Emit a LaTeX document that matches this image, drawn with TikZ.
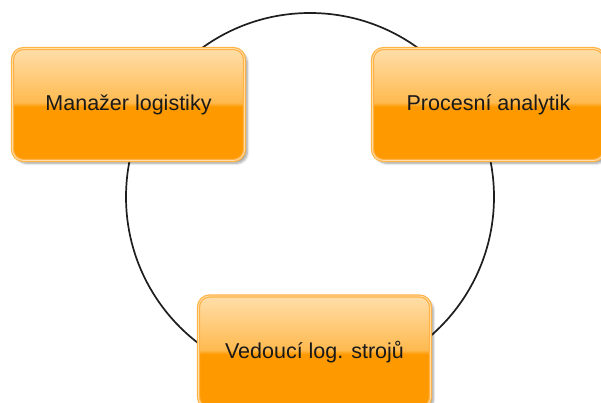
\documentclass[tikz,border=0pt]{standalone}
\usepackage{fontspec}
\setmainfont{Liberation Sans}
\usepackage{tikz}
\usetikzlibrary{shadows.blur}
\definecolor{boxtop}{RGB}{255,222,170}
\definecolor{boxmid}{RGB}{255,186,80}
\definecolor{boxbot}{RGB}{255,153,0}
\definecolor{boxedge}{RGB}{255,178,70}
\definecolor{ringline}{RGB}{30,30,30}
\pgfdeclareverticalshading{glossyorange}{100bp}{%
  color(0bp)=(boxbot); color(25bp)=(boxbot); color(49bp)=(boxbot);
  color(51bp)=(boxmid); color(75bp)=(boxtop); color(100bp)=(boxtop)}
\tikzset{
  rolebox/.style={rounded corners=11pt,shading=glossyorange,
    draw=boxedge,line width=1.2pt,double=boxtop,double distance=0.8pt,
    minimum width=232pt,minimum height=112pt,
    font=\fontsize{21.5}{25}\selectfont,text=black!90,
    blur shadow={shadow xshift=3pt,shadow yshift=-3pt,shadow blur steps=6,shadow opacity=35}},
  ring/.style={draw=ringline,line width=1.7pt}
}

\begin{document}
\begin{tikzpicture}[x=1pt,y=1pt]
  \useasboundingbox (0,0) rectangle (601,403);
  \coordinate (ringc) at (310,206);
  \draw[ring] (ringc) circle[radius=184];
  \node[rolebox] (manazer) at (128.5,298.5) {Manažer logistiky};
  \node[rolebox] (analytik) at (488.5,298.5) {Procesní analytik};
  \node[rolebox] (vedouci) at (314.5,51) {Vedoucí log. strojů};
\end{tikzpicture}
\end{document}
